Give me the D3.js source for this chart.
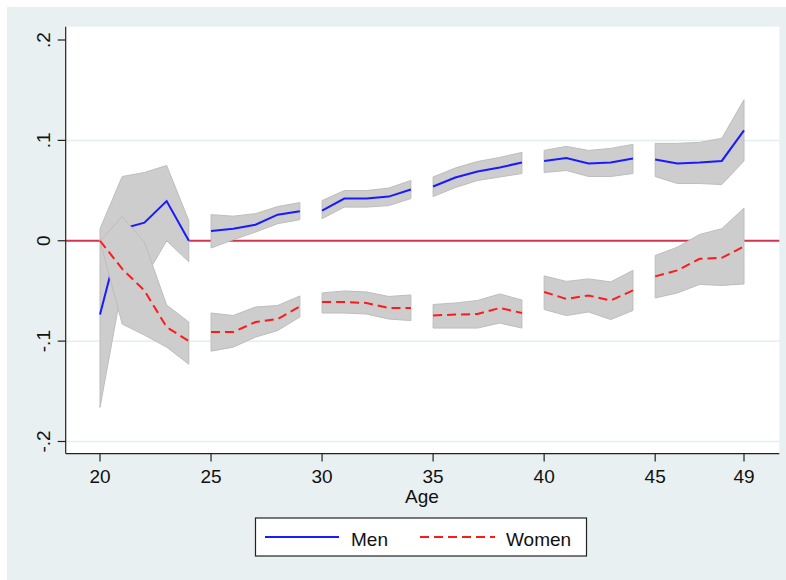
<!DOCTYPE html>
<html>
<head>
<meta charset="utf-8">
<script src="https://cdn.jsdelivr.net/npm/d3@7"></script>
<style>
  html, body { margin: 0; padding: 0; background: #fff; }
  svg { display: block; font-family: "Liberation Sans", Arial, Helvetica, sans-serif; }
</style>
</head>
<body>
<div id="chart"></div>
<script>
// ages, grouped in five-year blocks (each block drawn as its own piece)
const ages = [20, 21, 22, 23, 24, 25, 26, 27, 28, 29, 30, 31, 32, 33, 34,
              35, 36, 37, 38, 39, 40, 41, 42, 43, 44, 45, 46, 47, 48, 49]
const blocks = [20, 20, 20, 20, 20, 25, 25, 25, 25, 25, 30, 30, 30, 30, 30,
                35, 35, 35, 35, 35, 40, 40, 40, 40, 40, 45, 45, 45, 45, 45]

// Men: estimate and confidence interval
const menEst = [-0.0735, 0.012, 0.018, 0.0395, 0.0,
                0.0096, 0.012, 0.016, 0.026, 0.0295,
                0.030, 0.042, 0.042, 0.044, 0.051,
                0.054, 0.063, 0.069, 0.073, 0.078,
                0.0795, 0.0825, 0.077, 0.078, 0.082,
                0.081, 0.077, 0.078, 0.0795, 0.110]
const menLo = [-0.166, -0.045, -0.038, 0.0, -0.021,
               -0.0073, 0.001, 0.0086, 0.017, 0.021,
               0.022, 0.0335, 0.0335, 0.035, 0.042,
               0.044, 0.053, 0.060, 0.0635, 0.067,
               0.068, 0.070, 0.064, 0.064, 0.067,
               0.064, 0.057, 0.057, 0.056, 0.0795]
const menHi = [0.012, 0.064, 0.068, 0.075, 0.020,
               0.026, 0.0245, 0.027, 0.034, 0.038,
               0.040, 0.050, 0.050, 0.0525, 0.060,
               0.0635, 0.0725, 0.079, 0.083, 0.088,
               0.090, 0.094, 0.090, 0.092, 0.096,
               0.097, 0.097, 0.098, 0.102, 0.1405]

// Women: estimate and confidence interval
const womenEst = [0.0, -0.028, -0.0496, -0.086, -0.100,
                  -0.091, -0.091, -0.081, -0.078, -0.0655,
                  -0.061, -0.061, -0.062, -0.067, -0.067,
                  -0.0745, -0.0735, -0.073, -0.067, -0.072,
                  -0.051, -0.058, -0.0545, -0.0595, -0.0495,
                  -0.0355, -0.0295, -0.018, -0.017, -0.0057]
const womenLo = [0.0, -0.083, -0.094, -0.106, -0.123,
                 -0.110, -0.106, -0.096, -0.0895, -0.076,
                 -0.072, -0.072, -0.073, -0.078, -0.0795,
                 -0.087, -0.087, -0.087, -0.082, -0.087,
                 -0.0685, -0.0745, -0.071, -0.0785, -0.0695,
                 -0.057, -0.052, -0.0435, -0.0445, -0.043]
const womenHi = [0.0, 0.024, -0.0013, -0.064, -0.081,
                 -0.072, -0.0745, -0.066, -0.0645, -0.055,
                 -0.052, -0.050, -0.051, -0.0555, -0.054,
                 -0.0635, -0.062, -0.0595, -0.053, -0.059,
                 -0.035, -0.0405, -0.038, -0.041, -0.0295,
                 -0.0147, -0.0064, 0.0063, 0.012, 0.0325]

const xTicks = [20, 25, 30, 35, 40, 45, 49]
const yTicks = [-0.2, -0.1, 0, 0.1, 0.2]
const yTickLabels = ['-.2', '-.1', '0', '.1', '.2']
const gridValues = [-0.2, -0.1, 0.1]

// ---------- setup ----------
const W = 786, H = 580
const plot = { left: 65.7, right: 779.3, top: 26.7, bottom: 453.6 }

const svg = d3.select('#chart').append('svg')
  .attr('width', W).attr('height', H)

// graph region background
svg.append('rect').attr('x', 7).attr('y', 7).attr('width', W - 7).attr('height', H - 7)
  .attr('fill', '#e9f0f2')
svg.append('rect')
  .attr('x', plot.left).attr('y', plot.top)
  .attr('width', plot.right - plot.left).attr('height', plot.bottom - plot.top)
  .attr('fill', '#ffffff')

const x = d3.scaleLinear().domain([20, 49]).range([100, 744])
const y = d3.scaleLinear().domain([-0.2, 0.2]).range([441.5, 40])

// gridlines
svg.selectAll('.grid').data(gridValues).join('line')
  .attr('class', 'grid')
  .attr('x1', plot.left).attr('x2', plot.right)
  .attr('y1', d => y(d)).attr('y2', d => y(d))
  .attr('stroke', '#e4edf0').attr('stroke-width', 1.5)

// zero line, sits behind the bands
svg.append('line')
  .attr('x1', plot.left).attr('x2', plot.right)
  .attr('y1', y(0)).attr('y2', y(0))
  .attr('stroke', '#d2344f').attr('stroke-width', 2)

// rows built from the arrays
const rows = ages.map((a, i) => ({
  age: a, block: blocks[i],
  mEst: menEst[i], mLo: menLo[i], mHi: menHi[i],
  wEst: womenEst[i], wLo: womenLo[i], wHi: womenHi[i]
}))
const groups = d3.groups(rows, d => d.block).map(g => g[1])

const area = (lo, hi) => d3.area().x(d => x(d.age)).y0(d => y(d[lo])).y1(d => y(d[hi]))
const line = key => d3.line().x(d => x(d.age)).y(d => y(d[key]))

const bandFill = '#cdcdcd', bandStroke = '#bdbdbd'

// men band + line
svg.selectAll('.menBand').data(groups).join('path')
  .attr('class', 'menBand')
  .attr('d', area('mLo', 'mHi'))
  .attr('fill', bandFill).attr('stroke', bandStroke).attr('stroke-width', 1)
svg.selectAll('.menLine').data(groups).join('path')
  .attr('class', 'menLine')
  .attr('d', line('mEst'))
  .attr('fill', 'none').attr('stroke', '#1a1aff').attr('stroke-width', 2)

// women band + line
svg.selectAll('.womenBand').data(groups).join('path')
  .attr('class', 'womenBand')
  .attr('d', area('wLo', 'wHi'))
  .attr('fill', bandFill).attr('stroke', bandStroke).attr('stroke-width', 1)
svg.selectAll('.womenLine').data(groups).join('path')
  .attr('class', 'womenLine')
  .attr('d', line('wEst'))
  .attr('fill', 'none').attr('stroke', '#ff1a1a').attr('stroke-width', 2)
  .attr('stroke-dasharray', '9,5')

// ---------- axes ----------
const axisColor = '#222'
svg.append('line')
  .attr('x1', plot.left).attr('x2', plot.left)
  .attr('y1', plot.top).attr('y2', plot.bottom)
  .attr('stroke', axisColor).attr('stroke-width', 1.2)
svg.append('line')
  .attr('x1', plot.left).attr('x2', plot.right)
  .attr('y1', plot.bottom).attr('y2', plot.bottom)
  .attr('stroke', axisColor).attr('stroke-width', 1.2)

// x ticks
svg.selectAll('.xtick').data(xTicks).join('line')
  .attr('class', 'xtick')
  .attr('x1', d => x(d)).attr('x2', d => x(d))
  .attr('y1', plot.bottom).attr('y2', plot.bottom + 8)
  .attr('stroke', axisColor).attr('stroke-width', 1.2)
svg.selectAll('.xlab').data(xTicks).join('text')
  .attr('class', 'xlab')
  .attr('x', d => x(d)).attr('y', 482.5)
  .attr('text-anchor', 'middle')
  .attr('font-size', 19).attr('fill', '#111')
  .text(d => d)

// y ticks
svg.selectAll('.ytick').data(yTicks).join('line')
  .attr('class', 'ytick')
  .attr('x1', plot.left - 8).attr('x2', plot.left)
  .attr('y1', d => y(d)).attr('y2', d => y(d))
  .attr('stroke', axisColor).attr('stroke-width', 1.2)
svg.selectAll('.ylab').data(yTicks).join('text')
  .attr('class', 'ylab')
  .attr('transform', d => `translate(50,${y(d)}) rotate(-90)`)
  .attr('text-anchor', 'middle')
  .attr('font-size', 19).attr('fill', '#111')
  .text((d, i) => yTickLabels[i])

// axis title
svg.append('text')
  .attr('x', (x(20) + x(49)) / 2).attr('y', 503)
  .attr('text-anchor', 'middle')
  .attr('font-size', 19).attr('fill', '#111')
  .text('Age')

// ---------- legend ----------
const legend = svg.append('g')
legend.append('rect')
  .attr('x', 255.5).attr('y', 518).attr('width', 331).attr('height', 38)
  .attr('fill', '#fff').attr('stroke', '#222').attr('stroke-width', 1.2)
legend.append('line')
  .attr('x1', 265).attr('x2', 339).attr('y1', 537).attr('y2', 537)
  .attr('stroke', '#1a1aff').attr('stroke-width', 2)
legend.append('text')
  .attr('x', 351).attr('y', 546)
  .attr('font-size', 19).attr('fill', '#111')
  .text('Men')
legend.append('line')
  .attr('x1', 420).attr('x2', 495).attr('y1', 537).attr('y2', 537)
  .attr('stroke', '#ff1a1a').attr('stroke-width', 2)
  .attr('stroke-dasharray', '9,5')
legend.append('text')
  .attr('x', 506).attr('y', 546)
  .attr('font-size', 19).attr('fill', '#111')
  .text('Women')
</script>
</body>
</html>
